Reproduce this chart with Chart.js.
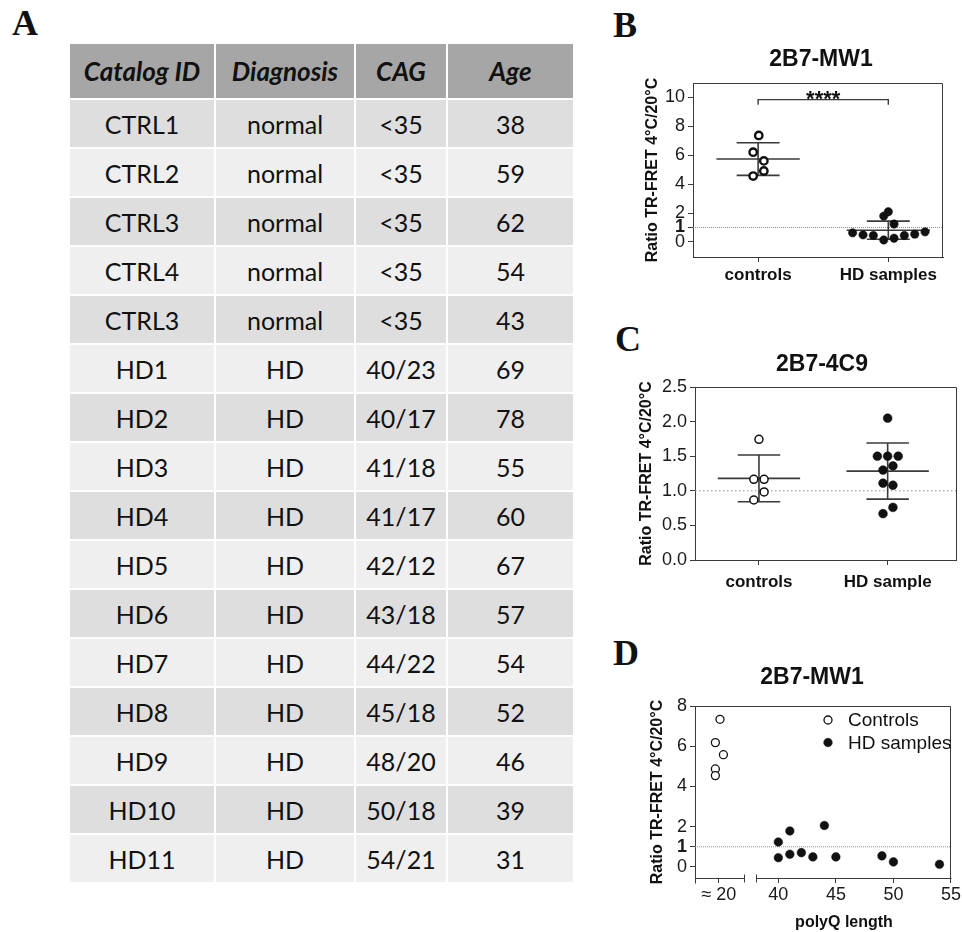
<!DOCTYPE html>
<html>
<head>
<meta charset="utf-8">
<title>2B7 TR-FRET</title>
<script src="https://cdn.jsdelivr.net/npm/chart.js@4.4.1/dist/chart.umd.min.js"></script>
<style>
  html, body { margin: 0; padding: 0; background: #fff; }
  body { position: relative; width: 962px; height: 932px; overflow: hidden; }
  .letter { position: absolute; font: bold 36px "Liberation Serif", "Times New Roman", serif; line-height: 36px; color: #111; }
  #tableA { position: absolute; left: 68px; top: 42px; border-collapse: separate; border-spacing: 2px;
            table-layout: fixed; font-family: Lato, "Open Sans", sans-serif; font-size: 25px; color: #111; }
  #tableA th { background: #a6a6a6; height: 54px; padding: 0; font-weight: bold; font-style: italic; text-align: center; font-size: 26px; }
  #tableA td { height: 47px; padding: 0; text-align: center; }
  #tableA tbody tr:nth-child(odd) td { background: #dedede; }
  #tableA tbody tr:nth-child(even) td { background: #efefef; }
  .panel { position: absolute; left: 600px; width: 362px; }
</style>
</head>
<body>

<div class="letter" style="left:12px;top:5px">A</div>
<div class="letter" style="left:613px;top:7px">B</div>
<div class="letter" style="left:615px;top:321px">C</div>
<div class="letter" style="left:613px;top:635px">D</div>

<table id="tableA">
  <colgroup><col style="width:144px"><col style="width:138px"><col style="width:90px"><col style="width:125px"></colgroup>
  <thead><tr id="headRow"></tr></thead>
  <tbody id="bodyRows"></tbody>
</table>

<div class="panel" style="top:0;height:300px"><canvas id="chartB" width="362" height="300"></canvas></div>
<div class="panel" style="top:300px;height:300px"><canvas id="chartC" width="362" height="300"></canvas></div>
<div class="panel" style="top:600px;height:332px"><canvas id="chartD" width="362" height="332"></canvas></div>

<script>
// ---- table A ----
const tableHeaders = ['Catalog ID', 'Diagnosis', 'CAG', 'Age'];
const catalogIds = ['CTRL1', 'CTRL2', 'CTRL3', 'CTRL4', 'CTRL3', 'HD1', 'HD2', 'HD3', 'HD4', 'HD5', 'HD6', 'HD7', 'HD8', 'HD9', 'HD10', 'HD11'];
const diagnoses = ['normal', 'normal', 'normal', 'normal', 'normal', 'HD', 'HD', 'HD', 'HD', 'HD', 'HD', 'HD', 'HD', 'HD', 'HD', 'HD'];
const cagRepeats = ['<35', '<35', '<35', '<35', '<35', '40/23', '40/17', '41/18', '41/17', '42/12', '43/18', '44/22', '45/18', '48/20', '50/18', '54/21'];
const ages = [38, 59, 62, 54, 43, 69, 78, 55, 60, 67, 57, 54, 52, 46, 39, 31];

// ---- panel B : 2B7-MW1 ----
const groupsB = ['controls', 'HD samples'];
const controlsB = [7.37, 6.21, 5.61, 4.91, 4.56];
const controlsSpreadB = [0.005, -0.038, 0.044, 0.044, -0.038];
const hdB = [0.63, 0.49, 0.45, 0.14, 0.26, 0.45, 0.54, 0.70, 1.79, 2.09, 1.24];
const hdSpreadB = [-0.274, -0.194, -0.115, -0.035, 0.044, 0.123, 0.203, 0.282, -0.035, 0, 0.044];
const meanB = [5.74, 0.815];
const sdB = [1.13, 0.625];
const yTicksB = [0, 1, 2, 4, 6, 8, 10];
const sigLabelB = '****';

// ---- panel C : 2B7-4C9 ----
const groupsC = ['controls', 'HD sample'];
const controlsC = [1.744, 1.166, 1.166, 0.983, 0.867];
const controlsSpreadC = [0, -0.04, 0.04, 0.04, -0.04];
const hdC = [2.05, 1.50, 1.50, 1.50, 1.30, 1.36, 1.11, 1.08, 0.67, 0.76];
const hdSpreadC = [0, -0.08, 0, 0.082, -0.036, 0.041, -0.036, 0.041, -0.036, 0.041];
const meanC = [1.18, 1.285];
const sdC = [0.338, 0.405];
const yTicksC = [0, 0.5, 1, 1.5, 2, 2.5];

// ---- panel D : 2B7-MW1 vs polyQ ----
const controlsPolyQ = [20.1, 19.7, 20.4, 19.7, 19.7];
const controlsD = [7.34, 6.18, 5.58, 4.87, 4.54];
const hdPolyQ = [40, 40, 41, 41, 42, 43, 44, 45, 49, 50, 54];
const hdD = [0.46, 1.24, 1.79, 0.63, 0.71, 0.50, 2.06, 0.50, 0.55, 0.25, 0.13];
const yTicksD = [0, 1, 2, 4, 6, 8];
const polyQTicksD = [20, 40, 45, 50, 55];
const legendD = ['Controls', 'HD samples'];

const yTitle = 'Ratio TR-FRET 4°C/20°C';

// fill the table
document.getElementById('headRow').innerHTML = tableHeaders.map(h => `<th>${h}</th>`).join('');
document.getElementById('bodyRows').innerHTML = catalogIds.map((id, i) =>
  `<tr><td>${id}</td><td>${diagnoses[i]}</td><td>${cagRepeats[i].replace('<', '&lt;')}</td><td>${ages[i]}</td></tr>`
).join('');

// ---- chart helpers ----
const FONT = '"Liberation Sans", Arial, sans-serif';
const INK = '#3a3a3a';
Chart.defaults.font.family = FONT;
Chart.defaults.color = '#1a1a1a';
Chart.defaults.animation = false;

// the axis break squeezes the control group (~20 Q) next to 40
const shiftD = 14.83;
const toAxisD = q => (q < 30 ? q + shiftD : q);

function segment(points, extra) {
  return Object.assign({
    type: 'line', data: points, showLine: true, borderColor: INK, borderWidth: 1.6,
    pointRadius: 0, pointHoverRadius: 0, pointHitRadius: 0, fill: false, order: 2
  }, extra || {});
}

function meanSd(center, mean, sd) {
  const half = 0.32, cap = 0.165;
  return [
    segment([{ x: center - half, y: mean }, { x: center + half, y: mean }]),
    segment([{ x: center - cap, y: mean + sd }, { x: center + cap, y: mean + sd }]),
    segment([{ x: center - cap, y: mean - sd }, { x: center + cap, y: mean - sd }]),
    segment([{ x: center, y: mean - sd }, { x: center, y: mean + sd }])
  ];
}

function refLine(xMin, xMax, dash) {
  return segment([{ x: xMin, y: 1 }, { x: xMax, y: 1 }], { borderColor: '#8c8c8c', borderWidth: 1, borderDash: dash, order: 3 });
}

function dots(xs, ys, style) {
  return Object.assign({
    type: 'scatter', data: ys.map((y, i) => ({ x: xs[i], y: y })), order: 0,
    pointHoverRadius: 0, pointHitRadius: 0
  }, style);
}

const openDot = (r, w) => ({ pointRadius: r, pointBorderWidth: w, pointBackgroundColor: '#fff', pointBorderColor: '#111' });
const fullDot = r => ({ pointRadius: r, pointBorderWidth: 0.5, pointBackgroundColor: '#111', pointBorderColor: '#111' });

function yAxis(min, max, ticks, width, titleX, boldOne, fmt) {
  return {
    type: 'linear', min: min, max: max,
    afterBuildTicks: s => { s.ticks = ticks.map(v => ({ value: v })); },
    afterFit: s => { s.width = width; },
    grid: { display: true, drawOnChartArea: false, drawTicks: true, tickLength: 5, tickColor: INK, tickWidth: 1 },
    border: { display: true, color: INK, width: 1 },
    ticks: {
      padding: 3, color: '#1a1a1a',
      font: c => ({ family: FONT, size: 18, weight: (boldOne && c.tick && c.tick.value === 1) ? 'bold' : 'normal' }),
      callback: v => fmt ? fmt(v) : String(v)
    },
    title: { display: true, text: yTitle, color: '#111', font: { family: FONT, size: 16, weight: 'bold' }, padding: { top: titleX - 9.6, bottom: 0 } }
  };
}

function xGroupAxis(min, max, labels, height, pad) {
  return {
    type: 'linear', min: min, max: max,
    afterBuildTicks: s => { s.ticks = labels.map((_, i) => ({ value: i })); },
    afterFit: s => { s.height = height; },
    grid: { display: true, drawOnChartArea: false, drawTicks: true, tickLength: 5, tickColor: INK, tickWidth: 1 },
    border: { display: true, color: INK, width: 1 },
    ticks: { padding: pad, maxRotation: 0, autoSkip: false, color: '#111',
             font: { family: FONT, size: 17, weight: 'bold' }, callback: (v, i) => labels[i] }
  };
}

// frame (top/right sides), panel title, broken axis, stars, legend
const deco = {
  id: 'deco',
  afterDatasetsDraw(chart, args, o) {
    const { ctx, chartArea: a, scales: { x, y } } = chart;
    ctx.save();
    ctx.strokeStyle = INK;
    ctx.lineWidth = 1;
    const L = Math.round(a.left) + 0.5, R = Math.round(a.right) - 0.5;
    const T = Math.round(a.top) + 0.5, B = Math.round(a.bottom) - 0.5;
    ctx.beginPath();
    ctx.moveTo(L, T); ctx.lineTo(R, T); ctx.lineTo(R, B + 0.5);
    ctx.stroke();

    if (o.axisBreak) {
      const b0 = Math.round(x.getPixelForValue(o.axisBreak[0])) + 0.5;
      const b1 = Math.round(x.getPixelForValue(o.axisBreak[1])) + 0.5;
      const yb = Math.round(a.bottom) + 0.5;
      ctx.beginPath();
      ctx.moveTo(L, yb); ctx.lineTo(b0, yb);
      ctx.moveTo(b1, yb); ctx.lineTo(R + 1, yb);
      ctx.moveTo(L, yb); ctx.lineTo(L, yb + 5);
      ctx.moveTo(b0, yb - 4); ctx.lineTo(b0, yb + 4);
      ctx.moveTo(b1, yb - 4); ctx.lineTo(b1, yb + 4);
      ctx.stroke();
      ctx.font = 'bold 16px ' + FONT;
      ctx.fillStyle = '#111';
      ctx.textAlign = 'center';
      ctx.textBaseline = 'middle';
      ctx.fillText(o.xTitle, o.xTitleX, o.xTitleY);
    }

    if (o.sig) {
      ctx.font = 'bold 22px ' + FONT;
      ctx.fillStyle = '#111';
      ctx.textAlign = 'center';
      ctx.textBaseline = 'alphabetic';
      ctx.fillText(o.sig.text, x.getPixelForValue(o.sig.at), y.getPixelForValue(o.sig.y) + 6);
    }

    if (o.legend) {
      ctx.font = '19px ' + FONT;
      ctx.textAlign = 'left';
      ctx.textBaseline = 'middle';
      o.legend.items.forEach((item, i) => {
        const ds = chart.data.datasets[item.dataset];
        const cy = o.legend.y + i * o.legend.gap;
        ctx.beginPath();
        ctx.arc(o.legend.x, cy, ds.pointRadius, 0, Math.PI * 2);
        ctx.fillStyle = ds.pointBackgroundColor;
        ctx.fill();
        ctx.lineWidth = ds.pointBorderWidth;
        ctx.strokeStyle = ds.pointBorderColor;
        ctx.stroke();
        ctx.fillStyle = '#111';
        ctx.fillText(item.text, o.legend.x + 20, cy + 1);
      });
    }

    ctx.font = 'bold 23px ' + FONT;
    ctx.fillStyle = '#111';
    ctx.textAlign = 'center';
    ctx.textBaseline = 'middle';
    ctx.fillText(o.title, o.titleX, o.titleY);
    ctx.restore();
  }
};

const baseOptions = (layoutPad, scales, decoOpts) => ({
  responsive: false,
  animation: false,
  layout: { padding: layoutPad },
  plugins: { legend: { display: false }, tooltip: { enabled: false }, deco: decoOpts },
  scales: scales
});

// ---- B ----
new Chart(document.getElementById('chartB'), {
  type: 'scatter',
  data: {
    datasets: [
      dots(controlsB.map((_, i) => 0 + controlsSpreadB[i]), controlsB, openDot(3.7, 2.4)),
      dots(hdB.map((_, i) => 1 + hdSpreadB[i]), hdB, fullDot(4.2)),
      ...meanSd(0, meanB[0], sdB[0]),
      ...meanSd(1, meanB[1], sdB[1]),
      segment([{ x: 0, y: 9.5 }, { x: 0, y: 9.85 }, { x: 1, y: 9.85 }, { x: 1, y: 9.5 }], { borderWidth: 1.4 }),
      refLine(-0.5, 1.42, [1, 1])
    ]
  },
  options: baseOptions(
    { top: 83, right: 19, bottom: 0, left: 0 },
    { x: xGroupAxis(-0.5, 1.42, groupsB, 43, 3), y: yAxis(-1.04, 11.0, yTicksB, 93, 53, true) },
    { title: '2B7-MW1', titleX: 221, titleY: 60, sig: { text: sigLabelB, at: 0.5, y: 9.85 } }
  ),
  plugins: [deco]
});

// ---- C ----
new Chart(document.getElementById('chartC'), {
  type: 'scatter',
  data: {
    datasets: [
      dots(controlsC.map((_, i) => 0 + controlsSpreadC[i]), controlsC, openDot(4, 1.5)),
      dots(hdC.map((_, i) => 1 + hdSpreadC[i]), hdC, fullDot(4.4)),
      ...meanSd(0, meanC[0], sdC[0]),
      ...meanSd(1, meanC[1], sdC[1]),
      refLine(-0.497, 1.535, [1.5, 2.5])
    ]
  },
  options: baseOptions(
    { top: 87, right: 4, bottom: 0, left: 0 },
    { x: xGroupAxis(-0.497, 1.535, groupsC, 40, 7), y: yAxis(0, 2.5, yTicksC, 95, 47, false, v => v.toFixed(1)) },
    { title: '2B7-4C9', titleX: 222, titleY: 65 }
  ),
  plugins: [deco]
});

// ---- D ----
new Chart(document.getElementById('chartD'), {
  type: 'scatter',
  data: {
    datasets: [
      dots(controlsPolyQ.map(toAxisD), controlsD, openDot(4, 1.3)),
      dots(hdPolyQ.map(toAxisD), hdD, fullDot(4.3)),
      refLine(32.76, 55, [1, 1])
    ]
  },
  options: baseOptions(
    { top: 106, right: 9, bottom: 0, left: 0 },
    {
      x: {
        type: 'linear', min: 32.76, max: 55,
        afterBuildTicks: s => { s.ticks = polyQTicksD.map(q => ({ value: toAxisD(q) })); },
        afterFit: s => { s.height = 54; },
        grid: { display: true, drawOnChartArea: false, drawTicks: true, tickLength: 5, tickColor: INK, tickWidth: 1 },
        border: { display: false },
        ticks: { padding: 1, maxRotation: 0, autoSkip: false, color: '#1a1a1a', font: { family: FONT, size: 18 },
                 callback: (v, i) => (i === 0 ? '≈ ' : '') + polyQTicksD[i] }
      },
      y: yAxis(-0.55, 8, yTicksD, 95, 58, true)
    },
    {
      title: '2B7-MW1', titleX: 212, titleY: 78,
      axisBreak: [36.98, 38.1], xTitle: 'polyQ length', xTitleX: 244, xTitleY: 323,
      legend: { x: 228, y: 120, gap: 22.5, items: [{ dataset: 0, text: legendD[0] }, { dataset: 1, text: legendD[1] }] }
    }
  ),
  plugins: [deco]
});
</script>
</body>
</html>
